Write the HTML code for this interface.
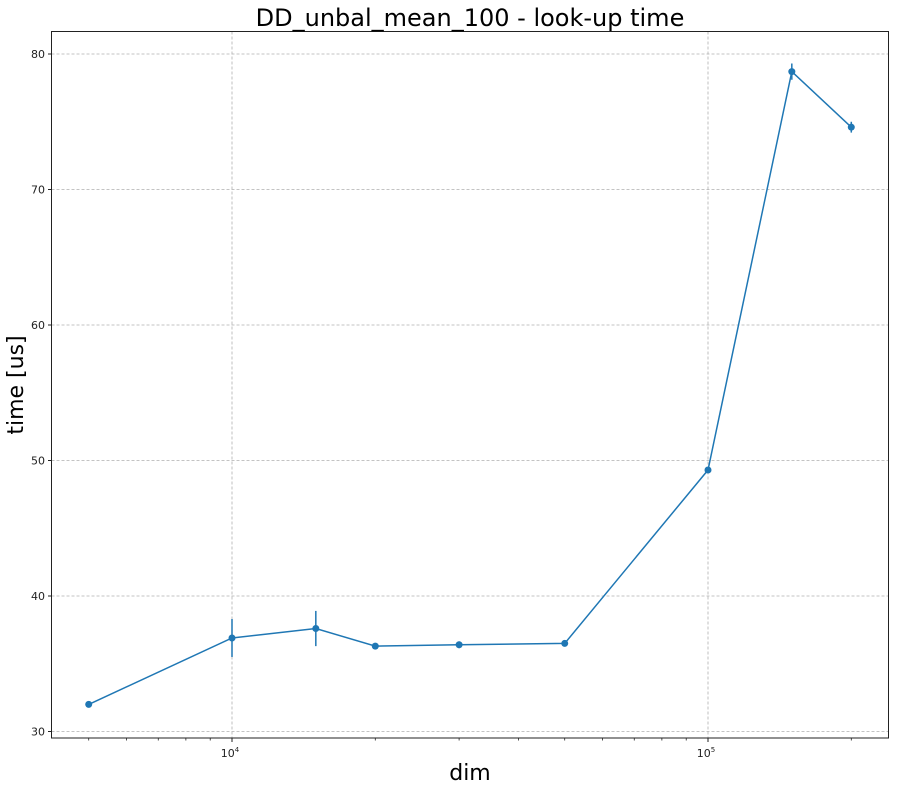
<!DOCTYPE html>
<html><head><meta charset="utf-8"><style>
body{margin:0;background:#fff;}
svg text{font-family:"DejaVu Sans","Liberation Sans",sans-serif;}
</style></head><body>
<svg id="chart" width="898" height="790" xmlns="http://www.w3.org/2000/svg">
<rect width="898" height="790" fill="#fff"/>
<g id="grid"></g>
<g id="axes"></g>
<g id="series"></g>
<rect x="51.5" y="31.5" width="837" height="706.5" fill="none" stroke="#222" stroke-width="1"/>
<text x="470" y="26" font-size="24" text-anchor="middle" fill="#000">DD_unbal_mean_100 - look-up time</text>
<text x="470" y="780" font-size="22" text-anchor="middle" fill="#000">dim</text>
<text transform="translate(23,385) rotate(-90)" font-size="22" text-anchor="middle" fill="#000">time [us]</text>
</svg>
<script>
const dims=[5000,10000,15000,20000,30000,50000,100000,150000,200000];
const times=[32.0,36.9,37.6,36.3,36.4,36.5,49.3,78.7,74.6];
const errs=[0.1,1.4,1.3,0.15,0.25,0.15,0.2,0.6,0.4];
const yTicks=[30,40,50,60,70,80];
const xMajor=[10000,100000];
const xMajorLabels=["4","5"];
const xMinor=[5000,6000,7000,8000,9000,20000,30000,40000,50000,60000,70000,80000,90000,200000];
const NS="http://www.w3.org/2000/svg";
function xs(v){return 232+476*Math.log10(v/10000);}
function ys(v){return 731.5-(v-30)*(677.5/50);}
function mk(t,a,p){const e=document.createElementNS(NS,t);for(const k in a)e.setAttribute(k,a[k]);p.appendChild(e);return e;}
const grid=document.getElementById('grid'),axes=document.getElementById('axes'),ser=document.getElementById('series');
yTicks.forEach(v=>{const y=ys(v);
 const g=mk('line',{x1:51.5,x2:888.5,y1:y,y2:y,stroke:'#b0b0b0','stroke-dasharray':'3,2','stroke-width':0.8},grid);
 
 
 const t=mk('line',{x1:48,x2:51.5,y1:y,y2:y,stroke:'#222'},axes);
 
 
 const l=mk('text',{x:45,y:y+4,'font-size':11,'text-anchor':'end',fill:'#222'},axes);l.textContent=v;
 
 
});
xMajor.forEach((v,i)=>{const x=xs(v);
 const g=mk('line',{x1:x,x2:x,y1:31.5,y2:738,stroke:'#b0b0b0','stroke-dasharray':'3,2','stroke-width':0.8},grid);
 
 
 const t=mk('line',{x1:x,x2:x,y1:738,y2:742,stroke:'#222'},axes);
 
 
 const l=mk('text',{x:x-2,y:757,'font-size':11,'text-anchor':'middle',fill:'#222'},axes);
 l.innerHTML='10<tspan font-size="7" dy="-5">'+xMajorLabels[i]+'</tspan>';
 
 
});
xMinor.forEach(v=>{const x=xs(v);
 const t=mk('line',{x1:x,x2:x,y1:738,y2:740.5,stroke:'#222','stroke-width':0.8},axes);
 
 
});
const pl=mk('polyline',{points:dims.map((d,i)=>xs(d)+','+ys(times[i])).join(' '),fill:'none',stroke:'#1f77b4','stroke-width':1.5},ser);


dims.forEach((d,i)=>{const x=xs(d);
 const e=mk('line',{x1:x,x2:x,y1:ys(times[i]-errs[i]),y2:ys(times[i]+errs[i]),stroke:'#1f77b4','stroke-width':1.5},ser);
 
 
 const c=mk('circle',{cx:x,cy:ys(times[i]),r:3.5,fill:'#1f77b4'},ser);
 
 
});
</script>
</body></html>
